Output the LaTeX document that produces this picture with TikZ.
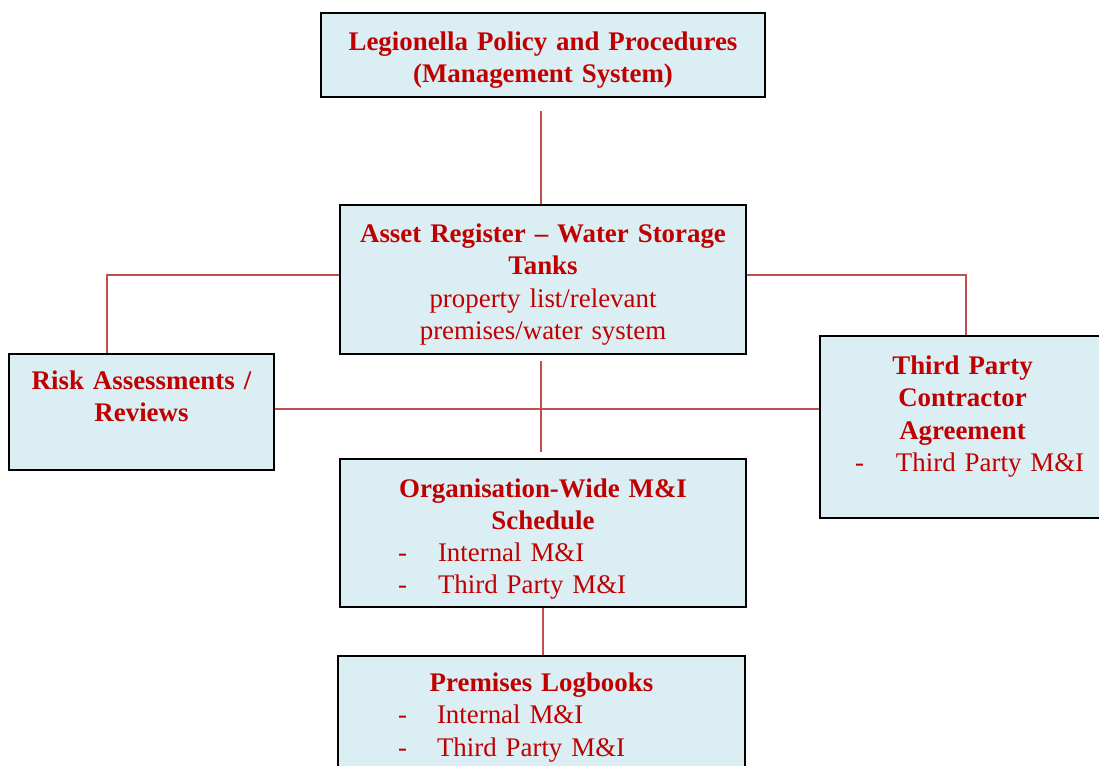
\documentclass[tikz,border=0pt]{standalone}
\usepackage{fontspec}
\setmainfont{Liberation Serif}
\usepackage{tikz}
\usetikzlibrary{calc}
\definecolor{boxfill}{HTML}{DBEEF3}
\definecolor{boxtext}{HTML}{C00000}
\definecolor{linkred}{HTML}{C0504D}
\newcommand{\dashitem}[3]{\par\noindent\hbox to \hsize{\hspace*{#1}\makebox[\dimexpr#2-#1\relax][l]{-}#3\hfil}}
\newcommand{\padbottom}[1]{\par\vspace*{#1}}

\begin{document}
\begin{tikzpicture}[x=0.02cm,y=-0.02cm]
  \tikzstyle{mibox}=[rectangle,draw=black,line width=1.2pt,fill=boxfill,text=boxtext,align=center,inner sep=0pt,font=\fontsize{15.3}{18.3}\selectfont]
  \tikzstyle{link}=[draw=linkred,line width=1pt]
  \useasboundingbox (0,0) rectangle (1099,765);

  \node[mibox,minimum width=8.88cm,minimum height=1.68cm,text width=8.88cm] (P) at (543,55)
    {\textbf{Legionella Policy and Procedures\\(Management System)}\padbottom{-0.2cm}};
  \node[mibox,minimum width=8.12cm,minimum height=2.98cm,text width=8.12cm] (A) at (543,279.5)
    {\textbf{Asset Register -- Water Storage\\Tanks}\\property list/relevant\\premises/water system\padbottom{-0.2cm}};
  \node[mibox,minimum width=5.3cm,minimum height=2.32cm,text width=5.3cm] (R) at (141.5,412)
    {\textbf{Risk Assessments /\\Reviews}\padbottom{0.64cm}};
  \node[mibox,minimum width=5.7cm,minimum height=3.64cm,text width=5.7cm] (T) at (962.5,427)
    {\textbf{Third Party\\Contractor\\Agreement}\dashitem{0.7cm}{1.52cm}{Third Party M\&I}\padbottom{0.42cm}};
  \node[mibox,minimum width=8.12cm,minimum height=2.96cm,text width=8.12cm] (O) at (543,533)
    {\textbf{Organisation-Wide M\&I\\Schedule}\dashitem{1.16cm}{1.96cm}{Internal M\&I}\dashitem{1.16cm}{1.96cm}{Third Party M\&I}\padbottom{-0.24cm}};
  \node[mibox,minimum width=8.14cm,minimum height=3cm,text width=8.14cm] (L) at (541.5,731)
    {\textbf{Premises Logbooks}\dashitem{1.2cm}{1.98cm}{Internal M\&I}\dashitem{1.2cm}{1.98cm}{Third Party M\&I}\padbottom{0.54cm}};

  % connectors
  \draw[link,shorten <=0.26cm] ($(P.south)+(-2,0)$) -- ($(A.north)+(-2,0)$);
  \draw[link] ($(A.west)+(0,-4.5)$) -| ($(R.north)+(-34.5,0)$);
  \draw[link] ($(A.east)+(0,-4.5)$) -| ($(T.north)+(3.5,0)$);
  \draw[link,line width=1.5pt] ($(R.east)+(0,-3)$) -- ($(R.east -| T.west)+(0,-3)$);
  \draw[link,shorten <=0.12cm,shorten >=0.12cm] ($(A.south)+(-2,0)$) -- ($(O.north)+(-2,0)$);
  \draw[link] (O.south) -- (O.south |- L.north);
\end{tikzpicture}
\end{document}
